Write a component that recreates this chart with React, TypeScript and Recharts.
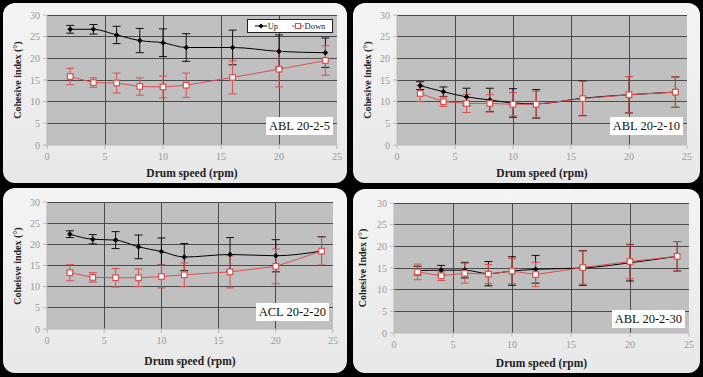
import React from 'react';
import { LineChart, Line, XAxis, YAxis, CartesianGrid, ErrorBar, ReferenceLine } from 'recharts';

const SPEEDS = [2, 4, 6, 8, 10, 12, 16, 20, 24];
const X_TICKS = [0, 5, 10, 15, 20, 25];
const Y_TICKS = [0, 5, 10, 15, 20, 25, 30];
const GRID_X = [5, 10, 15, 20];
const GRID_Y = [5, 10, 15, 20, 25, 30];

// ABL 20-2-5
const ABL5_UP = [26.7, 26.7, 25.4, 24.1, 23.6, 22.5, 22.5, 21.6, 21.3];
const ABL5_UP_ERR = [0.9, 1.1, 2.0, 2.8, 3.2, 3.2, 4.0, 3.8, 3.4];
const ABL5_DOWN = [15.8, 14.4, 14.3, 13.5, 13.4, 13.8, 15.6, 17.5, 19.5];
const ABL5_DOWN_ERR = [1.9, 1.1, 2.3, 2.0, 2.5, 2.8, 3.8, 4.1, 3.4];

// ABL 20-2-10
const ABL10_UP = [13.7, 12.3, 11.1, 10.4, 9.7, 9.5, 10.8, 11.6, 12.2];
const ABL10_UP_ERR = [0.9, 1.1, 2.0, 2.7, 3.3, 3.3, 4.0, 4.2, 3.5];
const ABL10_DOWN = [11.9, 10.0, 9.6, 9.6, 9.4, 9.4, 10.7, 11.6, 12.2];
const ABL10_DOWN_ERR = [1.9, 1.1, 2.1, 2.0, 2.7, 3.0, 4.0, 4.2, 3.5];

// ACL 20-2-20
const ACL20_UP = [22.4, 21.2, 21.0, 19.4, 18.3, 17.0, 17.6, 17.3, 18.4];
const ACL20_UP_ERR = [0.8, 1.1, 2.0, 2.8, 3.2, 3.2, 4.0, 3.8, 3.4];
const ACL20_DOWN = [13.3, 12.2, 12.1, 12.1, 12.4, 12.8, 13.5, 14.8, 18.4];
const ACL20_DOWN_ERR = [1.9, 1.1, 2.2, 2.1, 2.7, 2.8, 3.8, 4.1, 3.3];

// ABL 20-2-30
const ABL30_UP = [14.4, 14.5, 14.5, 13.7, 14.3, 14.7, 15.0, 16.2, 17.7];
const ABL30_UP_ERR = [1.0, 1.1, 1.8, 2.8, 3.3, 3.2, 4.0, 4.2, 3.4];
const ABL30_DOWN = [14.1, 13.2, 13.8, 13.6, 14.3, 13.5, 15.1, 16.5, 17.7];
const ABL30_DOWN_ERR = [1.8, 1.1, 2.3, 2.2, 2.9, 2.8, 3.8, 4.0, 3.4];

const RED = '#d9504f';
const GRID = '#4a4a4a';
const SERIF = '"Liberation Serif", "DejaVu Serif", serif';

const buildRows = (up: number[], upErr: number[], down: number[], downErr: number[]) =>
  SPEEDS.map((s, i) => ({ speed: s, up: up[i], upErr: upErr[i], down: down[i], downErr: downErr[i] }));

const UpDot = (props: any) => {
  const { cx, cy, index } = props;
  if (cx == null || cy == null) return <g key={`u${index}`} />;
  return <path key={`u${index}`} d={`M${cx},${cy - 2.8}L${cx + 2.8},${cy}L${cx},${cy + 2.8}L${cx - 2.8},${cy}Z`} fill="#000" />;
};

const DownDot = (props: any) => {
  const { cx, cy, index } = props;
  if (cx == null || cy == null) return <g key={`d${index}`} />;
  return <rect key={`d${index}`} x={cx - 2.8} y={cy - 2.8} width={5.6} height={5.6} fill="#fff" stroke={RED} strokeWidth={1.2} />;
};

interface PanelProps {
  left: number;
  top: number;
  width: number;
  height: number;
  plot: { l: number; r: number; t: number; b: number };
  yTitle: string;
  tag: string;
  tagBottom: number;
  xTitleOffset: number;
  yTitleOffset: number;
  data: any[];
  legend?: boolean;
}

const Panel: React.FC<PanelProps> = ({ left, top, width, height, plot, yTitle, tag, tagBottom, xTitleOffset, yTitleOffset, data, legend }) => {
  const xAxisH = 20;
  return (
    <div
      style={{
        position: 'absolute',
        left,
        top,
        width,
        height,
        borderRadius: 12,
        background: 'linear-gradient(180deg, #f4f4f4 0%, #e8e8e8 100%)',
        overflow: 'hidden',
      }}
    >
      <LineChart
        width={width}
        height={height}
        data={data}
        margin={{ top: plot.t, right: width - plot.r, bottom: height - plot.b - xAxisH, left: 0 }}
      >
        <CartesianGrid stroke="none" fill="#c0c0c0" fillOpacity={1} />
        <XAxis
          dataKey="speed"
          type="number"
          domain={[0, 25]}
          ticks={X_TICKS}
          height={xAxisH}
          stroke="#b8b8b8"
          tickSize={4}
          tick={{ fill: '#999', fontSize: 10, fontFamily: SERIF }}
          tickMargin={4}
        />
        <YAxis
          type="number"
          domain={[0, 30]}
          ticks={Y_TICKS}
          width={plot.l}
          stroke="#b8b8b8"
          tickSize={4}
          tick={{ fill: '#999', fontSize: 10, fontFamily: SERIF }}
          tickMargin={3}
        />
        {GRID_Y.map((v) => (
          <ReferenceLine key={`gy${v}`} y={v} stroke={GRID} strokeWidth={1} shapeRendering="crispEdges" zIndex={-50} />
        ))}
        {GRID_X.map((v) => (
          <ReferenceLine key={`gx${v}`} x={v} stroke={GRID} strokeWidth={1} shapeRendering="crispEdges" zIndex={-50} />
        ))}
        <Line
          type="monotone"
          dataKey="up"
          stroke="#000"
          strokeWidth={1}
          dot={UpDot}
          activeDot={false}
          isAnimationActive={false}
        >
          <ErrorBar dataKey="upErr" width={4} stroke="#111" strokeWidth={1} direction="y" />
        </Line>
        <Line
          type="linear"
          dataKey="down"
          stroke={RED}
          strokeWidth={1}
          dot={DownDot}
          activeDot={false}
          isAnimationActive={false}
        >
          <ErrorBar dataKey="downErr" width={4} stroke={RED} strokeWidth={1} direction="y" />
        </Line>
      </LineChart>

      {/* y-axis title */}
      <div
        style={{
          position: 'absolute',
          left: plot.l - yTitleOffset,
          top: (plot.t + plot.b) / 2,
          transform: 'translate(-50%, -50%) rotate(-90deg)',
          whiteSpace: 'nowrap',
          fontFamily: SERIF,
          fontWeight: 'bold',
          fontSize: 10,
          color: '#222',
        }}
      >
        {yTitle}
      </div>

      {/* x-axis title */}
      <div
        style={{
          position: 'absolute',
          left: (plot.l + plot.r) / 2,
          top: plot.b + xTitleOffset,
          transform: 'translate(-50%, -50%)',
          whiteSpace: 'nowrap',
          fontFamily: SERIF,
          fontWeight: 'bold',
          fontSize: 11.5,
          color: '#222',
        }}
      >
        Drum speed (rpm)
      </div>

      {/* sample tag */}
      <div
        style={{
          position: 'absolute',
          right: width - plot.r + 4,
          top: plot.b - tagBottom - 18,
          height: 18,
          lineHeight: '18px',
          padding: '0 3px',
          background: '#fff',
          fontFamily: SERIF,
          fontSize: 12.5,
          color: '#111',
          whiteSpace: 'nowrap',
        }}
      >
        {tag}
      </div>

      {legend && (
        <div
          style={{
            position: 'absolute',
            left: 244,
            top: 16,
            width: 84,
            height: 12,
            background: '#fff',
            border: '1px solid #222',
            fontFamily: SERIF,
            fontSize: 8.5,
            color: '#222',
            display: 'flex',
            alignItems: 'center',
            justifyContent: 'space-around',
          }}
        >
          <span style={{ display: 'flex', alignItems: 'center' }}>
            <svg width={12} height={8}>
              <line x1={0} y1={4} x2={12} y2={4} stroke="#000" strokeWidth={1} />
              <path d="M6,1.5L8.5,4L6,6.5L3.5,4Z" fill="#000" />
            </svg>
            <span style={{ marginLeft: 1 }}>Up</span>
          </span>
          <span style={{ display: 'flex', alignItems: 'center' }}>
            <svg width={12} height={8}>
              <line x1={0} y1={4} x2={12} y2={4} stroke={RED} strokeWidth={1} />
              <rect x={3.5} y={1.5} width={5} height={5} fill="#fff" stroke={RED} strokeWidth={1} />
            </svg>
            <span style={{ marginLeft: 1 }}>Down</span>
          </span>
        </div>
      )}
    </div>
  );
};

const App: React.FC = () => {
  return (
    <div style={{ position: 'fixed', left: 0, top: 0, width: 703, height: 377, background: '#000', overflow: 'hidden' }}>
      <Panel
        left={3}
        top={3}
        width={344}
        height={180}
        plot={{ l: 44, r: 334, t: 12, b: 142 }}
        yTitle="Cohesive index (°)"
        tag="ABL 20-2-5"
        tagBottom={10}
        xTitleOffset={28}
        yTitleOffset={30}
        data={buildRows(ABL5_UP, ABL5_UP_ERR, ABL5_DOWN, ABL5_DOWN_ERR)}
        legend
      />
      <Panel
        left={353}
        top={3}
        width={347}
        height={180}
        plot={{ l: 44, r: 334, t: 12, b: 142 }}
        yTitle="Cohesive index (°)"
        tag="ABL 20-2-10"
        tagBottom={10}
        xTitleOffset={28}
        yTitleOffset={30}
        data={buildRows(ABL10_UP, ABL10_UP_ERR, ABL10_DOWN, ABL10_DOWN_ERR)}
      />
      <Panel
        left={3}
        top={188}
        width={344}
        height={185}
        plot={{ l: 44, r: 330, t: 14, b: 141 }}
        yTitle="Coheisve index (°)"
        tag="ACL 20-2-20"
        tagBottom={8}
        xTitleOffset={32}
        yTitleOffset={30}
        data={buildRows(ACL20_UP, ACL20_UP_ERR, ACL20_DOWN, ACL20_DOWN_ERR)}
      />
      <Panel
        left={353}
        top={189}
        width={347}
        height={184}
        plot={{ l: 41, r: 336, t: 14, b: 144 }}
        yTitle="Cohesive Index (°)"
        tag="ABL 20-2-30"
        tagBottom={5}
        xTitleOffset={30}
        yTitleOffset={32}
        data={buildRows(ABL30_UP, ABL30_UP_ERR, ABL30_DOWN, ABL30_DOWN_ERR)}
      />
    </div>
  );
};

export default App;
